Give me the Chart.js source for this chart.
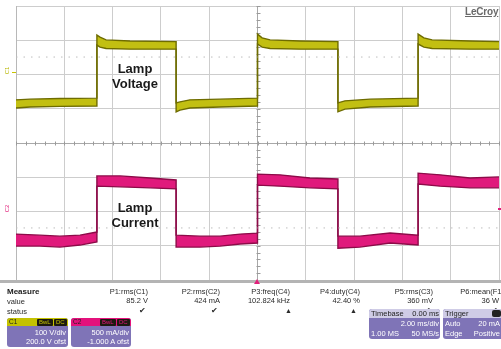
<!DOCTYPE html>
<html>
<head>
<meta charset="utf-8">
<script src="https://cdn.jsdelivr.net/npm/chart.js@4.4.1/dist/chart.umd.min.js"></script>
<style>
  html,body{margin:0;padding:0;background:#fff;}
  body{width:501px;height:349px;overflow:hidden;position:relative;font-family:"Liberation Sans",Arial,sans-serif;}
  #c{position:absolute;left:0;top:0;}
  .t{position:absolute;white-space:nowrap;font-size:7.5px;line-height:9px;color:#2a2a2a;}
  .r{text-align:right;}
  .b{font-weight:bold;}
  .lbl{position:absolute;font-weight:bold;font-size:13px;line-height:15px;color:#1a1a1a;text-align:center;width:80px;}
  .box{position:absolute;border-radius:3px;overflow:hidden;background:#7f74b7;}
  .hdr{position:absolute;left:0;right:0;top:0;}
  .w{color:#fff;}
  .tag{position:absolute;top:1px;height:7px;background:#1c1a10;font-size:6px;line-height:7px;padding:0 2px;border-radius:1px;}
</style>
</head>
<body>
<canvas id="c" width="501" height="349"></canvas>

<!-- annotations -->
<div class="lbl" style="left:95px;top:61px;">Lamp<br>Voltage</div>
<div class="lbl" style="left:95px;top:200px;">Lamp<br>Current</div>
<div class="t" style="left:465px;top:6px;font-size:10px;line-height:11px;color:#6a6a6a;text-decoration:underline;font-weight:bold;letter-spacing:-0.2px;">LeCroy</div>
<div class="t" style="left:4px;top:66px;font-size:6px;color:#b8b600;transform:rotate(-90deg);">C1</div>
<div class="t" style="left:4px;top:204px;font-size:6px;color:#e0207a;transform:rotate(-90deg);">C2</div>
<div style="position:absolute;left:12px;top:72px;width:4px;height:1px;background:#c8c400;"></div>
<div style="position:absolute;left:498px;top:208px;width:3px;height:2px;background:#e0207a;"></div>

<!-- separator -->
<div style="position:absolute;left:0;top:280px;width:501px;height:3px;background:#b4b4b4;"></div>
<div style="position:absolute;left:254px;top:279px;width:0;height:0;border-left:3px solid transparent;border-right:3px solid transparent;border-bottom:5px solid #e0207a;"></div>

<!-- measure table -->
<div class="t b" style="left:7px;top:287px;font-size:8px;color:#1a1a1a;">Measure</div>
<div class="t" style="left:7px;top:297px;">value</div>
<div class="t" style="left:7px;top:307px;">status</div>

<div class="t r" style="right:353px;top:287px;">P1:rms(C1)</div>
<div class="t r" style="right:353px;top:296px;">85.2 V</div>
<div class="t r" style="right:355px;top:306px;">✔</div>

<div class="t r" style="right:281px;top:287px;">P2:rms(C2)</div>
<div class="t r" style="right:281px;top:296px;">424 mA</div>
<div class="t r" style="right:283px;top:306px;">✔</div>

<div class="t r" style="right:211px;top:287px;">P3:freq(C4)</div>
<div class="t r" style="right:211px;top:296px;">102.824 kHz</div>
<div class="t r" style="right:209px;top:306px;font-size:7px;">▲</div>

<div class="t r" style="right:141px;top:287px;">P4:duty(C4)</div>
<div class="t r" style="right:141px;top:296px;">42.40 %</div>
<div class="t r" style="right:144px;top:306px;font-size:7px;">▲</div>

<div class="t r" style="right:68px;top:287px;">P5:rms(C3)</div>
<div class="t r" style="right:68px;top:296px;">360 mV</div>
<div class="t r" style="right:70px;top:306px;">✔</div>

<div class="t r" style="right:-3px;top:287px;">P6:mean(F1)</div>
<div class="t r" style="right:2px;top:296px;">36 W</div>
<div class="t r" style="right:3px;top:306px;">✔</div>

<!-- channel boxes -->
<div class="box" style="left:7px;top:318px;width:61px;height:29px;">
  <div class="hdr" style="height:8px;background:#c4c200;">
    <div class="t" style="left:2px;top:0;font-size:6.5px;line-height:8px;color:#222;">C1</div>
    <div class="tag" style="left:30px;color:#c4c200;">BwL</div>
    <div class="tag" style="left:47px;color:#c4c200;">DC</div>
  </div>
  <div class="t r w" style="right:2px;top:10px;">100 V/div</div>
  <div class="t r w" style="right:2px;top:19px;">200.0 V ofst</div>
</div>
<div class="box" style="left:71px;top:318px;width:60px;height:29px;">
  <div class="hdr" style="height:8px;background:#e4117c;">
    <div class="t" style="left:2px;top:0;font-size:6.5px;line-height:8px;color:#222;">C2</div>
    <div class="tag" style="left:29px;color:#e4117c;">BwL</div>
    <div class="tag" style="left:46px;color:#e4117c;">DC</div>
  </div>
  <div class="t r w" style="right:2px;top:10px;">500 mA/div</div>
  <div class="t r w" style="right:2px;top:19px;">-1.000 A ofst</div>
</div>

<div class="box" style="left:369px;top:309px;width:71px;height:30px;">
  <div class="hdr" style="height:9px;background:#cfcce6;">
    <div class="t" style="left:2px;top:0;color:#222;">Timebase</div>
    <div class="t r" style="right:1px;top:0;color:#222;">0.00 ms</div>
  </div>
  <div class="t r w" style="right:1px;top:10px;">2.00 ms/div</div>
  <div class="t w" style="left:2px;top:20px;">1.00 MS</div>
  <div class="t r w" style="right:1px;top:20px;">50 MS/s</div>
</div>
<div class="box" style="left:443px;top:309px;width:62px;height:30px;">
  <div class="hdr" style="height:9px;background:#cfcce6;">
    <div class="t" style="left:2px;top:0;color:#222;">Trigger</div>
    <div style="position:absolute;left:49px;top:1px;width:9px;height:7px;background:#222;border-radius:2px;"></div>
  </div>
  <div class="t w" style="left:2px;top:10px;">Auto</div>
  <div class="t r w" style="right:5px;top:10px;">20 mA</div>
  <div class="t w" style="left:2px;top:20px;">Edge</div>
  <div class="t r w" style="right:5px;top:20px;">Positive</div>
</div>

<script>
// ---- data (time in µs, amplitude in screen divisions) ----
const vTime  = [-10, -9.42, -8.18, -6.65, -6.65, -6.52, -6.27, -5.28, -3.37, -3.37, -3.21, -2.80, -1.55, 0, 0, 0.19, 0.52, 1.76, 3.33, 3.33, 3.62, 4.66, 6.65, 6.65, 6.89, 7.23, 8.80, 10];
const vUpper = [1.26, 1.28, 1.30, 1.31, 3.15, 3.09, 3.01, 2.98, 2.96, 1.17, 1.20, 1.26, 1.28, 1.31, 3.18, 3.07, 3.01, 2.98, 2.96, 1.17, 1.23, 1.28, 1.31, 3.18, 3.07, 3.01, 2.98, 2.96];
const vLower = [1.02, 1.05, 1.07, 1.08, 2.86, 2.80, 2.76, 2.74, 2.74, 0.91, 0.96, 1.02, 1.05, 1.08, 2.89, 2.80, 2.76, 2.74, 2.74, 0.91, 0.99, 1.05, 1.08, 2.89, 2.80, 2.76, 2.74, 2.74];

const iTime  = [-10, -9.01, -8.18, -7.35, -6.65, -6.65, -5.69, -4.45, -3.37, -3.37, -2.38, -1.55, -0.72, 0, 0, 0.93, 2.17, 3.33, 3.33, 4.24, 5.49, 6.65, 6.65, 7.56, 8.80, 10];
const iUpper = [-2.66, -2.69, -2.72, -2.69, -2.60, -0.96, -0.96, -1.02, -1.08, -2.69, -2.72, -2.72, -2.66, -2.63, -0.91, -0.93, -1.02, -1.05, -2.72, -2.72, -2.63, -2.69, -0.88, -0.93, -1.02, -0.99];
const iLower = [-3.01, -3.01, -3.04, -2.98, -2.89, -1.26, -1.28, -1.31, -1.34, -3.04, -3.04, -3.01, -2.95, -2.92, -1.23, -1.26, -1.31, -1.34, -3.07, -3.04, -2.92, -2.98, -1.20, -1.26, -1.31, -1.31];

const refLevels = [2.51, -2.48];
const xRange = [-10, 10];
const yRange = [-4, 4];

const pts = (t, v) => t.map((x, i) => ({x: x, y: v[i]}));

const centerTicks = {
  id: 'centerTicks',
  beforeDatasetsDraw(chart) {
    const {ctx, scales: {x, y}} = chart;
    const x0 = Math.round(x.getPixelForValue(0)) + 0.5;
    const y0 = Math.round(y.getPixelForValue(0)) + 0.5;
    ctx.save();
    ctx.strokeStyle = '#9a9a9a';
    ctx.lineWidth = 1;
    ctx.beginPath();
    for (let i = 0; i <= 50; i++) {
      const px = Math.round(x.getPixelForValue(xRange[0] + i * 0.4)) + 0.5;
      ctx.moveTo(px, y0 - 2); ctx.lineTo(px, y0 + 2);
    }
    for (let i = 0; i <= 40; i++) {
      const py = Math.round(y.getPixelForValue(yRange[0] + i * 0.2)) + 0.5;
      ctx.moveTo(x0 - 2, py); ctx.lineTo(x0 + 2, py);
    }
    ctx.stroke();
    ctx.restore();
  }
};

const refSets = refLevels.map(l => ({
  data: [{x: xRange[0], y: l}, {x: xRange[1], y: l}],
  borderColor: '#bdbdbd', borderWidth: 1, borderDash: [1.5, 6],
  pointRadius: 0, fill: false
}));

new Chart(document.getElementById('c'), {
  type: 'line',
  data: {
    datasets: [
      ...refSets,
      {data: pts(vTime, vUpper), borderColor: '#6e6c00', borderWidth: 1.4, pointRadius: 0, fill: false},
      {data: pts(vTime, vLower), borderColor: '#6e6c00', borderWidth: 1.4, pointRadius: 0, fill: '-1', backgroundColor: '#c2bf12'},
      {data: pts(iTime, iUpper), borderColor: '#8c0b48', borderWidth: 1.4, pointRadius: 0, fill: false},
      {data: pts(iTime, iLower), borderColor: '#8c0b48', borderWidth: 1.4, pointRadius: 0, fill: '-1', backgroundColor: '#e01a7c'}
    ]
  },
  options: {
    responsive: false,
    animation: false,
    devicePixelRatio: 1,
    layout: {padding: {left: 16, top: 6, right: 2, bottom: 69}},
    elements: {line: {tension: 0}},
    plugins: {legend: {display: false}, tooltip: {enabled: false}},
    scales: {
      x: {type: 'linear', min: xRange[0], max: xRange[1],
          ticks: {display: false, stepSize: 2},
          grid: {color: c => c.tick && c.tick.value === 0 ? '#a8a8a8' : '#cdcdcd', drawTicks: false},
          border: {color: '#b8b8b8'}},
      y: {type: 'linear', min: yRange[0], max: yRange[1],
          ticks: {display: false, stepSize: 1},
          grid: {color: c => c.tick && c.tick.value === 0 ? '#a8a8a8' : '#cdcdcd', drawTicks: false},
          border: {color: '#b8b8b8'}}
    }
  },
  plugins: [centerTicks]
});
</script>
</body>
</html>
